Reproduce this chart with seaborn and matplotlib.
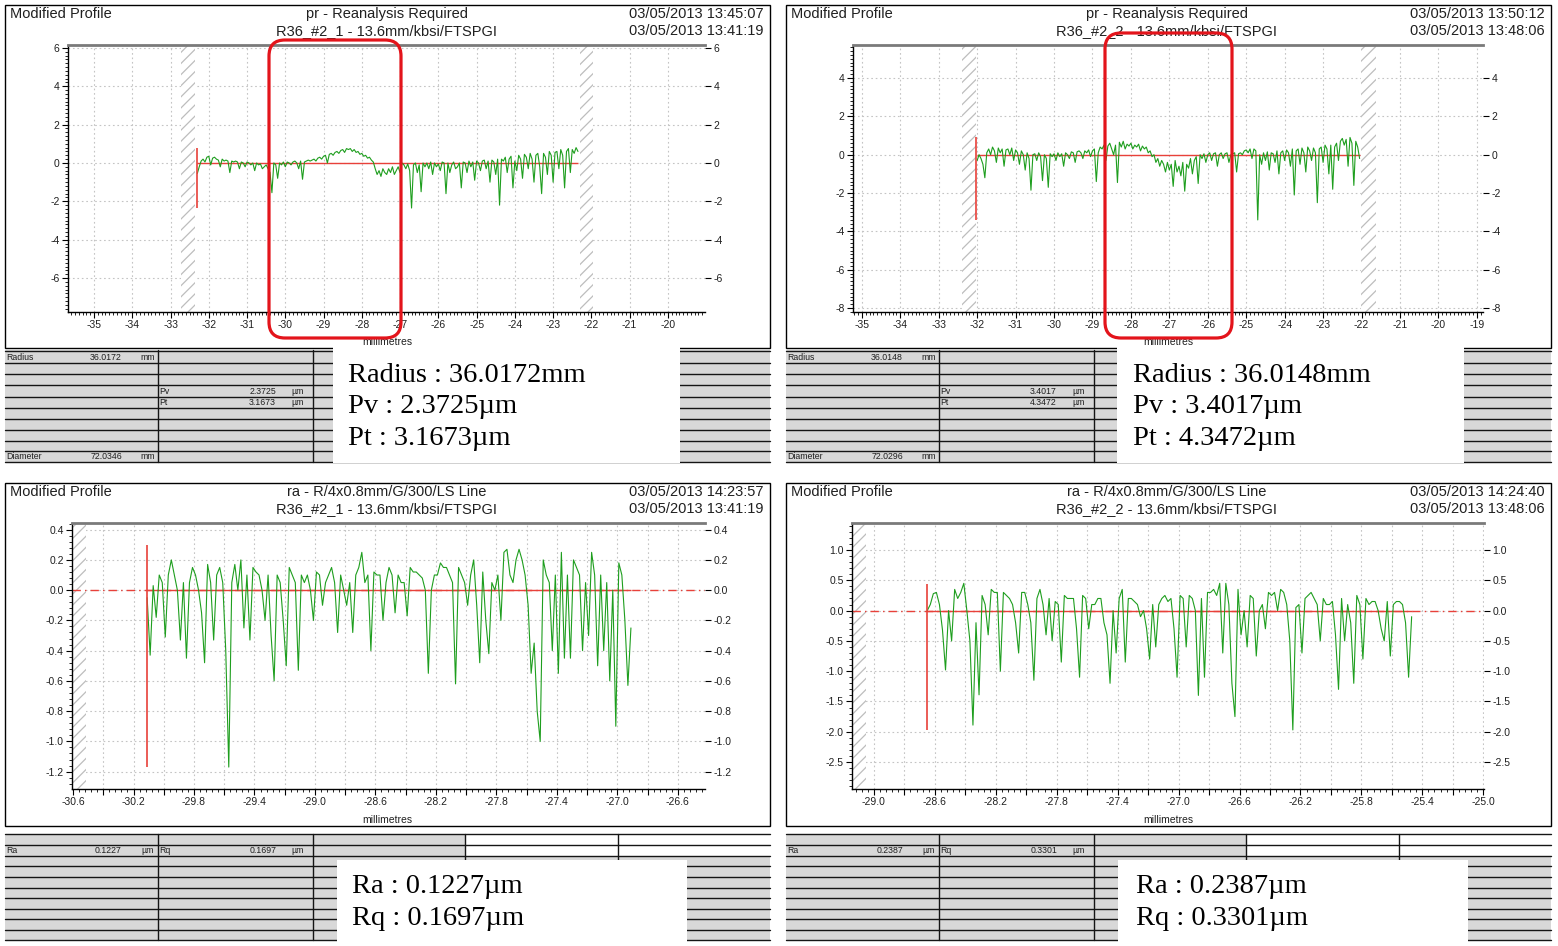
import numpy as np
import pandas as pd
import matplotlib
matplotlib.use("Agg")
import matplotlib.pyplot as plt
import seaborn as sns
from matplotlib.patches import Rectangle, FancyBboxPatch
from matplotlib.ticker import MultipleLocator

# ------------------------------------------------------------------ data
tl_x_range = (-32.30, -22.35)
tl_y = [
    -0.55, -0.2, 0.1, 0.2, 0.05, 0.3, 0.35, -0.1, 0.25, 0.3, 0.2, 0.15, -0.2, 0.2, 0.1, 0.15, 0.1, -0.5, 0.1, 0.05,
    0.1, 0.05, -0.3, 0.05, 0.0, -0.2, 0.05, 0.0, -0.1, 0.0, -0.4, 0.0, -0.1, -0.05, -0.3, -0.2, -0.1, -0.3, -0.5, -1.55,
    0.0, -0.1, -0.8, 0.0, -0.1, 0.05, -0.2, 0.05, 0.0, -0.1, 0.05, 0.1, 0.0, -0.3, 0.1, -0.85, 0.05, 0.1, 0.15, 0.1,
    0.15, 0.2, 0.1, 0.25, 0.3, 0.2, 0.35, 0.4, 0.0, 0.45, 0.5, 0.4, 0.55, 0.6, 0.5, 0.65, 0.7, 0.55, 0.75, 0.7,
    0.75, 0.6, 0.7, 0.55, 0.6, 0.45, 0.5, 0.35, 0.4, 0.25, 0.3, 0.15, 0.05, -0.3, -0.6, -0.4, -0.7, -0.3, -0.5, -0.6,
    -0.3, -0.5, -0.2, -0.6, -0.4, -0.2, -0.5, 0.0, -0.1, -0.3, -0.05, -0.4, -2.35, -0.1, 0.0, -0.5, -0.1, -1.5, 0.0, -0.2,
    0.0, -0.3, 0.05, -0.6, 0.0, -0.2, -0.05, -0.4, 0.05, 0.0, -1.6, 0.0, -0.5, -0.1, 0.05, -0.3, -0.2, 0.0, -1.3, 0.05,
    0.0, -0.5, 0.1, -0.2, 0.05, -0.9, 0.1, 0.0, -0.4, 0.1, 0.15, -0.3, 0.1, -1.0, 0.15, 0.05, -0.6, 0.2, -2.2, 0.2,
    0.1, 0.3, -0.5, 0.2, 0.35, -1.3, 0.1, -0.4, 0.4, 0.2, -0.8, 0.45, 0.3, -0.3, 0.5, 0.2, -1.0, 0.4, 0.5, -0.2,
    -1.6, 0.5, 0.3, -0.6, 0.6, 0.4, -1.0, 0.55, 0.6, -0.3, 0.7, 0.4, -1.3, 0.6, 0.75, -0.5, 0.7, 0.5, 0.8, 0.6,
]

tr_x_range = (-32.00, -22.05)
tr_y = [
    -0.3, 0.0, -0.2, -0.5, -1.2, 0.1, 0.3, 0.0, 0.4, 0.2, -0.4, 0.35, 0.1, 0.3, -0.6, 0.25, 0.3, 0.0, 0.35, -0.3,
    0.25, 0.1, -0.5, 0.2, 0.0, -0.8, 0.1, -0.2, -1.85, 0.0, 0.05, -0.3, 0.1, -0.1, -1.35, 0.0, -0.2, -1.7, 0.05, -0.1,
    0.05, -0.3, 0.1, -0.1, 0.05, -0.6, 0.1, 0.0, -0.2, 0.15, 0.1, -0.4, 0.15, 0.2, 0.1, -0.2, 0.2, 0.1, 0.25, -0.1,
    0.2, 0.3, -1.4, 0.1, 0.4, 0.3, 0.5, -0.3, 0.45, 0.6, 0.3, 0.0, 0.5, -1.45, 0.65, 0.4, 0.7, 0.3, 0.55, 0.45,
    0.6, 0.3, 0.5, 0.4, 0.55, 0.2, 0.45, 0.3, 0.4, 0.1, 0.2, -0.1, 0.0, -0.4, -0.2, -0.6, -0.3, -0.5, -0.9, -0.4,
    -0.8, -0.5, -1.65, -0.3, -0.9, -0.6, -1.1, -0.4, -1.9, -0.5, -0.7, -0.2, -1.0, -0.3, -0.1, -1.5, 0.0, -0.2, 0.05, -0.4,
    0.0, 0.1, -0.3, 0.05, 0.1, -0.6, 0.0, 0.1, -0.2, 0.05, 0.1, -0.4, 0.0, 0.05, 0.1, -0.9, 0.05, 0.1, 0.0, 0.2,
    0.25, 0.1, 0.3, -0.2, 0.3, 0.2, -3.4, 0.0, -0.5, 0.1, -0.3, 0.15, -0.8, 0.1, 0.05, -0.4, 0.2, -1.0, 0.1, 0.2,
    -0.3, 0.25, 0.1, -0.6, 0.3, -2.1, 0.2, 0.3, -0.5, 0.35, 0.1, -0.9, 0.4, 0.2, -0.3, 0.35, 0.1, -2.5, 0.3, 0.4,
    -0.4, 0.5, 0.3, -1.0, 0.5, -1.8, 0.4, 0.6, -0.3, 0.7, 0.85, 0.5, 0.8, -0.6, 0.9, 0.6, -1.6, 0.7, 0.4, -0.2,
]

bl_x_range = (-30.11, -26.91)
bl_y = [
    -0.05, -0.43, 0.03, -0.18, 0.1, 0.05, -0.31, 0.1, 0.2, 0.1,
    0.0, -0.33, 0.05, -0.45, 0.05, 0.15, 0.1, 0.0, -0.15, -0.48,
    0.17, 0.05, -0.33, 0.1, 0.15, 0.05, -0.4, -1.17, 0.05, 0.17,
    0.0, 0.2, -0.25, 0.1, -0.33, 0.15, 0.12, 0.1, 0.0, -0.2,
    0.1, -0.3, -0.6, 0.1, 0.05, -0.2, -0.5, 0.15, 0.1, 0.05,
    -0.53, 0.1, 0.05, 0.1, 0.0, -0.2, 0.12, 0.1, -0.1, 0.05,
    0.1, 0.15, 0.05, -0.28, 0.1, 0.0, -0.1, 0.05, -0.28, 0.1,
    0.15, 0.25, 0.05, 0.1, -0.4, 0.12, 0.1, 0.1, -0.2, 0.05,
    0.15, 0.1, -0.15, 0.1, 0.05, 0.05, -0.17, 0.15, 0.12, 0.12,
    0.1, 0.08, 0.0, -0.55, 0.0, 0.1, 0.1, 0.18, 0.15, 0.15,
    0.1, 0.05, -0.62, 0.15, 0.1, 0.05, -0.1, 0.1, 0.2, -0.1,
    -0.48, 0.12, -0.2, -0.42, 0.05, 0.0, 0.1, -0.2, 0.25, 0.27,
    0.1, 0.05, 0.2, 0.27, 0.2, 0.1, -0.1, -0.55, -0.35, -0.8,
    -1.0, 0.2, 0.1, 0.05, -0.4, 0.1, -0.55, 0.25, -0.45, 0.1,
    -0.45, 0.2, 0.15, 0.1, -0.4, 0.05, -0.3, 0.25, 0.1, -0.5,
    0.1, -0.4, 0.05, -0.6, 0.0, -0.9, 0.18, 0.1, -0.2, -0.63, -0.25,
]

br_x_range = (-28.65, -25.47)
br_y = [
    0.0, 0.1, 0.28, 0.3, 0.1, -0.32, -0.98, 0.0, -0.5, 0.35,
    0.2, 0.3, 0.45, 0.0, -0.5, -1.89, -0.2, -1.39, 0.25, 0.1,
    -0.4, 0.35, 0.3, 0.3, -1.0, 0.3, 0.25, 0.2, 0.1, -0.2,
    -0.7, 0.3, 0.3, 0.1, -0.2, -1.15, 0.2, 0.35, 0.1, -0.4,
    0.2, -0.5, 0.15, 0.1, -0.85, 0.25, 0.2, 0.2, 0.2, -0.3,
    -1.1, 0.25, 0.2, -0.3, 0.1, 0.1, 0.2, 0.2, -0.2, -0.4,
    -1.2, 0.0, -0.7, 0.2, 0.35, -0.85, 0.2, 0.2, 0.15, 0.1,
    -0.1, 0.0, -0.3, -0.8, 0.1, -0.6, 0.1, 0.2, 0.25, 0.15,
    0.2, -0.3, -1.1, 0.25, 0.2, -0.6, 0.25, 0.2, 0.0, -1.4,
    0.2, -1.1, 0.3, 0.3, 0.35, 0.25, 0.45, -0.7, 0.45, 0.1,
    -1.2, -1.75, 0.35, -0.4, 0.0, -0.6, 0.25, 0.2, -0.75, 0.0,
    0.1, -0.3, 0.3, 0.25, 0.3, 0.0, 0.35, 0.3, 0.1, -0.5,
    -1.97, 0.05, 0.1, -0.7, 0.2, 0.25, 0.3, 0.2, 0.1, -0.5,
    0.2, 0.1, 0.1, 0.15, -0.4, -1.3, 0.2, -0.5, 0.1, -0.2,
    -1.2, 0.25, 0.1, -0.8, 0.2, 0.1, 0.15, 0.15, 0.0, -0.3,
    -0.5, 0.15, -0.75, 0.1, 0.15, 0.15, 0.1, -0.2, -1.1, -0.1,
]

# header texts
headers = {
    "tl": ["Modified Profile", "pr - Reanalysis Required", "R36_#2_1 - 13.6mm/kbsi/FTSPGI",
           "03/05/2013 13:45:07", "03/05/2013 13:41:19"],
    "tr": ["Modified Profile", "pr - Reanalysis Required", "R36_#2_2 - 13.6mm/kbsi/FTSPGI",
           "03/05/2013 13:50:12", "03/05/2013 13:48:06"],
    "bl": ["Modified Profile", "ra - R/4x0.8mm/G/300/LS Line", "R36_#2_1 - 13.6mm/kbsi/FTSPGI",
           "03/05/2013 14:23:57", "03/05/2013 13:41:19"],
    "br": ["Modified Profile", "ra - R/4x0.8mm/G/300/LS Line", "R36_#2_2 - 13.6mm/kbsi/FTSPGI",
           "03/05/2013 14:24:40", "03/05/2013 13:48:06"],
}
radius_vals = ["36.0172", "36.0148"]
pv_vals = ["2.3725", "3.4017"]
pt_vals = ["3.1673", "4.3472"]
diameter_vals = ["72.0346", "72.0296"]
ra_vals = ["0.1227", "0.2387"]
rq_vals = ["0.1697", "0.3301"]

# ------------------------------------------------------------------ setup
W, H = 1558, 946
sns.set_style("ticks")
plt.rcParams['font.family'] = ['Liberation Sans', 'DejaVu Sans']
plt.rcParams['hatch.linewidth'] = 0.9
GREEN = '#1e9e1e'
RED = '#e8413a'
BOXRED = '#e3141b'
TXT = '#202020'

fig = plt.figure(figsize=(W / 100, H / 100), dpi=100)
bg = fig.add_axes([0, 0, 1, 1])
bg.set_xlim(0, W)
bg.set_ylim(H, 0)
bg.axis('off')


def px_rect(l, t, r, b):
    return [l / W, 1 - b / H, (r - l) / W, (b - t) / H]


def header(ox, oy, texts, cx):
    bg.add_patch(Rectangle((ox + 5, oy + 5), 765, 343, fc='white', ec='black', lw=1.0))
    bg.text(ox + 10, oy + 14, texts[0], fontsize=10.5, color=TXT, va='center', ha='left')
    bg.text(cx, oy + 14, texts[1], fontsize=10.5, color=TXT, va='center', ha='center')
    bg.text(cx, oy + 31, texts[2], fontsize=10.5, color=TXT, va='center', ha='center')
    bg.text(ox + 764, oy + 14, texts[3], fontsize=10.5, color=TXT, va='center', ha='right')
    bg.text(ox + 764, oy + 31, texts[4], fontsize=10.5, color=TXT, va='center', ha='right')


def tick_labels(vals, dec, every=1, start=0):
    out = []
    for i, v in enumerate(vals):
        if (i - start) % every == 0:
            if abs(v) < 1e-9:
                v = 0.0
            out.append(f"{v:.{dec}f}")
        else:
            out.append("")
    return out


def panel(rect, xlim, ylim, xt, xl, yt, yl, xminor, yminor, xr, ys, hatches, redv, dashdot):
    ax = fig.add_axes(px_rect(*rect))
    ax.set_facecolor('white')
    for a, b in hatches:
        ax.axvspan(a, b, facecolor='white', edgecolor='#bdbdbd', hatch='///', lw=0, zorder=1)
    ax.grid(True, which='major', color='#c4c4c4', ls=(0, (1.5, 2.5)), lw=0.8, zorder=0)
    xs = np.linspace(xr[0], xr[1], len(ys))
    df = pd.DataFrame({"x": xs, "y": ys})
    if dashdot:
        ax.axhline(0, color=RED, ls=(0, (6, 3, 1, 3)), lw=1.0, zorder=2)
    ax.hlines(0, xr[0], xr[1], color=RED, lw=1.0, zorder=2)
    sns.lineplot(data=df, x="x", y="y", ax=ax, color=GREEN, lw=0.8, estimator=None, sort=False, zorder=3)
    ax.vlines(redv[0], redv[2], redv[1], color=RED, lw=1.2, zorder=4)
    ax.set_xlim(*xlim)
    ax.set_ylim(*ylim)
    ax.set_xticks(xt)
    ax.set_xticklabels(xl)
    ax.set_yticks(yt)
    ax.set_yticklabels(yl)
    ax.xaxis.set_minor_locator(MultipleLocator(xminor))
    ax.yaxis.set_minor_locator(MultipleLocator(yminor))
    ax.set_xlabel("")
    ax.set_ylabel("")
    ax.tick_params(axis='both', which='major', labelsize=7.5, length=4, width=0.8,
                   colors='black', labelcolor=TXT, pad=2)
    ax.tick_params(axis='both', which='minor', length=2, width=0.6, colors='black')
    ax.tick_params(axis='y', which='major', right=True, labelright=True)
    ax.tick_params(axis='y', which='minor', right=False)
    for s in ['left', 'bottom']:
        ax.spines[s].set_color('black')
        ax.spines[s].set_linewidth(1.0)
    ax.spines['top'].set_visible(True)
    ax.spines['top'].set_color('#7a7a7a')
    ax.spines['top'].set_linewidth(2.0)
    ax.spines['right'].set_visible(False)
    return ax


def top_table(ox, i, bx, bigx):
    bg.add_patch(Rectangle((ox + 5, 350), 765, 112, fc='#d8d8d8', ec='none'))
    for y in [351, 363, 374, 385, 397, 408, 419, 430, 441, 451, 462]:
        bg.plot([ox + 5, ox + 770], [y, y], color='#151515', lw=1.0)
    for x in [158, 313]:
        bg.plot([ox + x, ox + x], [350, 462], color='#151515', lw=1.0)
    fs = 6.3
    bg.text(ox + 6, 357, "Radius", fontsize=fs, va='center', color=TXT)
    bg.text(ox + 122, 357, radius_vals[i], fontsize=fs, va='center', ha='right', color=TXT)
    bg.text(ox + 140, 357, "mm", fontsize=fs, va='center', color=TXT)
    bg.text(ox + 159, 391, "Pv", fontsize=fs, va='center', color=TXT)
    bg.text(ox + 276, 391, pv_vals[i], fontsize=fs, va='center', ha='right', color=TXT)
    bg.text(ox + 291, 391, "µm", fontsize=fs, va='center', color=TXT)
    bg.text(ox + 159, 402.5, "Pt", fontsize=fs, va='center', color=TXT)
    bg.text(ox + 276, 402.5, pt_vals[i], fontsize=fs, va='center', ha='right', color=TXT)
    bg.text(ox + 291, 402.5, "µm", fontsize=fs, va='center', color=TXT)
    bg.text(ox + 6, 456.5, "Diameter", fontsize=fs, va='center', color=TXT)
    bg.text(ox + 122, 456.5, diameter_vals[i], fontsize=fs, va='center', ha='right', color=TXT)
    bg.text(ox + 140, 456.5, "mm", fontsize=fs, va='center', color=TXT)
    bg.add_patch(Rectangle((ox + bx, 347), 347, 116, fc='white', ec='none', zorder=3))
    big = dict(fontsize=20.5, family=['Liberation Serif', 'DejaVu Serif'], va='center', ha='left',
               color='black', zorder=4)
    bg.text(ox + bigx, 375, f"Radius : {radius_vals[i]}mm", **big)
    bg.text(ox + bigx, 406.5, f"Pv : {pv_vals[i]}µm", **big)
    bg.text(ox + bigx, 438, f"Pt : {pt_vals[i]}µm", **big)


def bottom_table(ox, i, bx, bigx):
    bg.add_patch(Rectangle((ox + 5, 834), 460, 106, fc='#d8d8d8', ec='none'))
    bg.add_patch(Rectangle((ox + 465, 856), 305, 84, fc='#d8d8d8', ec='none'))
    for y in [834, 845, 856, 866, 877, 888, 898, 909, 919, 930, 940]:
        bg.plot([ox + 5, ox + 770], [y, y], color='#151515', lw=1.0)
    for x in [158, 313]:
        bg.plot([ox + x, ox + x], [834, 940], color='#151515', lw=1.0)
    for x in [465, 618]:
        bg.plot([ox + x, ox + x], [834, 860], color='#151515', lw=1.0)
    fs = 6.3
    bg.text(ox + 6, 850.5, "Ra", fontsize=fs, va='center', color=TXT)
    bg.text(ox + 122, 850.5, ra_vals[i], fontsize=fs, va='center', ha='right', color=TXT)
    bg.text(ox + 141, 850.5, "µm", fontsize=fs, va='center', color=TXT)
    bg.text(ox + 159, 850.5, "Rq", fontsize=fs, va='center', color=TXT)
    bg.text(ox + 277, 850.5, rq_vals[i], fontsize=fs, va='center', ha='right', color=TXT)
    bg.text(ox + 291, 850.5, "µm", fontsize=fs, va='center', color=TXT)
    bg.add_patch(Rectangle((ox + bx, 860), 350, 86, fc='white', ec='none', zorder=3))
    big = dict(fontsize=20.5, family=['Liberation Serif', 'DejaVu Serif'], va='center', ha='left',
               color='black', zorder=4)
    bg.text(ox + bigx, 886, f"Ra : {ra_vals[i]}µm", **big)
    bg.text(ox + bigx, 918, f"Rq : {rq_vals[i]}µm", **big)


# ------------------------------------------------------------------ headers / frames
header(0, 0, headers["tl"], 387)
header(781, 0, headers["tr"], 1167)
header(0, 478, headers["bl"], 387)
header(781, 478, headers["br"], 1167)
for cx, y in [(387, 342), (1168, 342), (387, 820), (1168, 820)]:
    bg.text(cx, y, "millimetres", fontsize=7.5, color=TXT, ha='center', va='center')

top_table(0, 0, 333, 348)
top_table(781, 1, 336, 352)
bottom_table(0, 0, 337, 352)
bottom_table(781, 1, 337, 355)

# ------------------------------------------------------------------ panels
xt = list(range(-35, -19))
panel((68, 45, 705, 312), (-35.68, -19.03), (-7.77, 6.15),
      xt, [str(v) for v in xt], list(range(-6, 7, 2)), [str(v) for v in range(-6, 7, 2)],
      0.1, 0.2, tl_x_range, tl_y, [(-32.73, -32.36), (-22.30, -21.96)],
      (-32.30, 0.78, -2.35), False)

xt = list(range(-35, -18))
panel((853, 45, 1483, 312), (-35.23, -18.84), (-8.2, 5.72),
      xt, [str(v) for v in xt], list(range(-8, 5, 2)), [str(v) for v in range(-8, 5, 2)],
      0.1, 0.2, tr_x_range, tr_y, [(-32.40, -32.03), (-22.02, -21.63)],
      (-32.02, 0.92, -3.4), False)

xt = [round(-30.6 + 0.2 * k, 1) for k in range(21)]
yt = [round(-1.2 + 0.2 * k, 1) for k in range(9)]
panel((72, 523, 705, 789), (-30.607, -26.42), (-1.315, 0.444),
      xt, tick_labels(xt, 1, 2), yt, tick_labels(yt, 1),
      0.04, 0.04, bl_x_range, bl_y, [(-30.607, -30.514)],
      (-30.11, 0.3, -1.17), True)

xt = [round(-29.0 + 0.2 * k, 1) for k in range(21)]
yt = [round(-2.5 + 0.5 * k, 1) for k in range(8)]
panel((852, 523, 1484, 789), (-29.144, -24.995), (-2.945, 1.446),
      xt, tick_labels(xt, 1, 2), yt, tick_labels(yt, 1),
      0.04, 0.1, br_x_range, br_y, [(-29.144, -29.052)],
      (-28.65, 0.44, -1.97), True)

# ------------------------------------------------------------------ red highlight boxes
ov = fig.add_axes([0, 0, 1, 1])
ov.set_xlim(0, W)
ov.set_ylim(H, 0)
ov.axis('off')
ov.patch.set_alpha(0)
for (x0, y0, x1, y1) in [(269, 40, 401, 338), (1105, 33, 1232, 338)]:
    ov.add_patch(FancyBboxPatch((x0, y0), x1 - x0, y1 - y0,
                                boxstyle="round,pad=0,rounding_size=16",
                                ec=BOXRED, fc='none', lw=2.3))

fig.savefig("out.png", dpi=100)
